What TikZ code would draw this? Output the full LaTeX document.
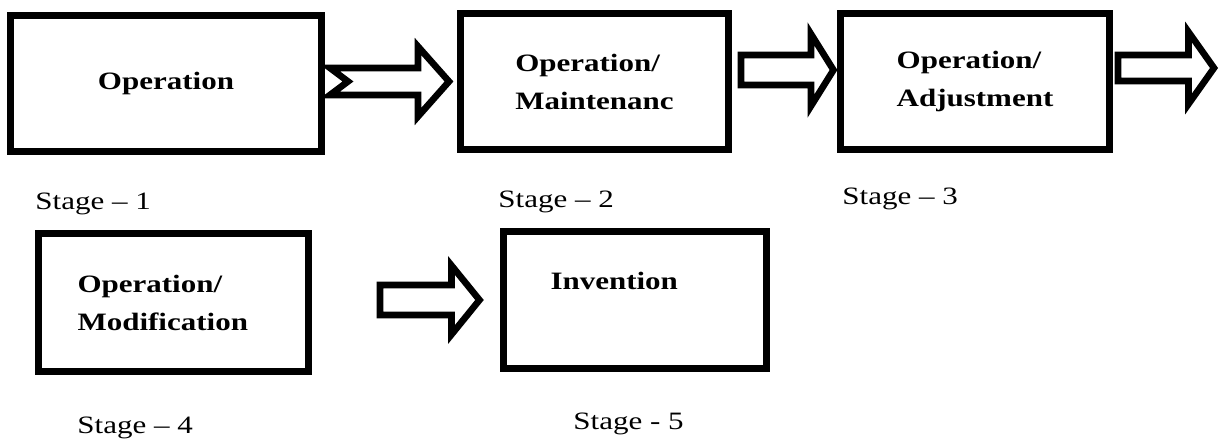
\documentclass[tikz,border=0pt]{standalone}
\usepackage{fontspec}
\setmainfont{Liberation Serif}[FakeStretch=1.24]
\usetikzlibrary{positioning, calc}
\tikzset{
  flow/.style={
	x=0.5pt, y=-0.5pt, % one unit = one pixel of the scan
	stagebox/.style={draw, line width=3.5pt, minimum height=68pt, align=left, font=\fontsize{12.5}{19}\selectfont\bfseries}, % the boxes
	stagelabel/.style={anchor=base west, inner sep=0pt, font=\fontsize{12.5}{15}\selectfont}, % the text under each box
	hollow/.style={draw, line width=3.3pt, fill=white, line join=miter}, % the outlined arrows
  }
}
% hollow block arrow: [notch]{tail}{tip}{shaft half width}{head half width}{head length}
\newcommand{\hollowarrow}[6][0pt]{
  \draw[hollow] let \p1=(#2), \p2=(#3) in
	(\x1,\y1+#4) -- (\x2-#6,\y1+#4) -- (\x2-#6,\y1+#5) -- (\x2,\y1)
	-- (\x2-#6,\y1-#5) -- (\x2-#6,\y1-#4) -- (\x1,\y1-#4) -- (\x1+#1,\y1) -- cycle;
}

\begin{document}
\begin{tikzpicture}[flow]
\useasboundingbox (0,0) rectangle (1221,443);

\node[stagebox, minimum width=155.5pt] (oper) at (166,83.5) {Operation};
\node[stagebox, minimum width=134pt, right=66pt of oper, yshift=1pt] (maint) {Operation/\\Maintenanc};
\node[stagebox, minimum width=134.5pt, right=52.5pt of maint] (adjust) {Operation/\\Adjustment};
\node[stagebox, minimum width=135pt, minimum height=69pt, text width=96pt] (modif) at (173.5,302.5) {Operation/\\Modification};
\node[stagebox, minimum width=131.5pt, minimum height=68.5pt, text width=84.5pt, right=94pt of modif, yshift=1.25pt] (invent) {Invention\\\mbox{}};

\node[stagelabel] (stone) at (35,210) {Stage -- 1};
\node[stagelabel] (sttwo) at (498,208) {Stage -- 2};
\node[stagelabel] (stthree) at (842,205) {Stage -- 3};
\node[stagelabel] (stfour) at (77,433) {Stage -- 4};
\node[stagelabel] (stfive) at (573,429) {Stage - 5};

\coordinate (aonetail) at ($(oper.east)+(5,-2)$);
\coordinate (aonetip) at ($(maint.west)+(-8,0)$);
\coordinate (atwotail) at ($(maint.east)+(9,-11.5)$);
\coordinate (atwotip) at ($(adjust.west)+(-3.5,0)$);
\coordinate (athreetail) at ($(adjust.east)+(5,-13.5)$);
\coordinate (athreetip) at ($(athreetail)+(96,0)$);
\coordinate (afourtail) at ($(modif.east)+(68,-2.5)$);
\coordinate (afourtip) at ($(invent.west)+(-20.5,0)$);

\hollowarrow[9pt]{aonetail}{aonetip}{6.75pt}{17.5pt}{15.5pt}
\hollowarrow{atwotail}{atwotip}{7.5pt}{18pt}{11.25pt}
\hollowarrow{athreetail}{athreetip}{6.5pt}{18pt}{12.75pt}
\hollowarrow{afourtail}{afourtip}{7.5pt}{17.25pt}{14pt}
\end{tikzpicture}
\end{document}
